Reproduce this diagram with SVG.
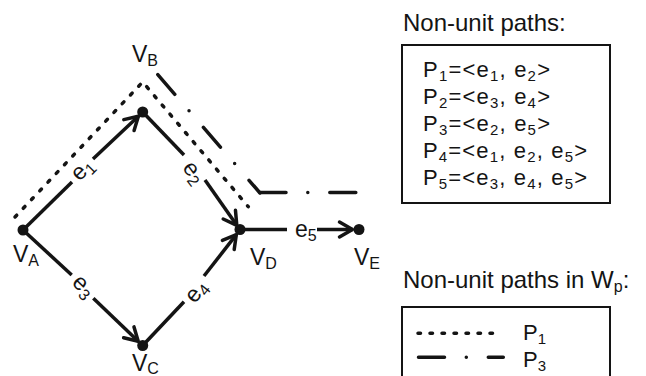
<svg xmlns="http://www.w3.org/2000/svg" width="646" height="376" viewBox="0 0 646 376">
<style>
text{font-family:"Liberation Sans",Arial,sans-serif;fill:#141414}
.lbl{font-size:23px}
.sub{font-size:16px}
.el{font-size:23px}
.esub{font-size:16px}
.hdr{font-size:24px}
.pl{font-size:22px}
.psub{font-size:15px}
.edge{stroke:#141414;stroke-width:3.5;fill:none;stroke-linecap:butt}
.node{fill:#141414}
.p1{stroke:#141414;stroke-width:3.5;fill:none;stroke-linecap:round;stroke-dasharray:2.5 9.5}
.p3{stroke:#141414;stroke-width:3.5;fill:none;stroke-linecap:round;stroke-dasharray:26 21.8 0 22}
.box{fill:none;stroke:#141414;stroke-width:2}
</style>
<defs>
<marker id="arr" markerUnits="userSpaceOnUse" markerWidth="24" markerHeight="24" viewBox="-18 -12 24 24" refX="0" refY="0" orient="auto" overflow="visible">
<path d="M-13,-7.5 L0,0 L-13,7.5" fill="none" stroke="#141414" stroke-width="3.5" stroke-linecap="round" stroke-linejoin="round"/>
</marker>
</defs>

<g id="paths">
<polyline class="p1" points="15,217 142.7,82 248.3,206.7"/>
<line class="p3" x1="157.8" y1="74.6" x2="260" y2="193"/>
<line class="p3" x1="260" y1="192.5" x2="356" y2="192.5"/>
</g>

<g id="connectors">
<line class="edge" x1="23" y1="230" x2="72" y2="182"/>
<line class="edge" x1="93" y1="159" x2="138.4" y2="116.2" marker-end="url(#arr)"/>
<line class="edge" x1="142.7" y1="112" x2="184" y2="155"/>
<line class="edge" x1="205" y1="180" x2="236.8" y2="225.3" marker-end="url(#arr)"/>
<line class="edge" x1="23" y1="230" x2="71.7" y2="275"/>
<line class="edge" x1="93.3" y1="298.3" x2="138.2" y2="341.3" marker-end="url(#arr)"/>
<line class="edge" x1="142.7" y1="345.5" x2="184" y2="301.7"/>
<line class="edge" x1="204" y1="276" x2="236.3" y2="234.7" marker-end="url(#arr)"/>
<line class="edge" x1="240" y1="229.5" x2="287" y2="229.5"/>
<line class="edge" x1="317" y1="229.5" x2="352.5" y2="229.5" marker-end="url(#arr)"/>
<text class="el" transform="translate(83,170) rotate(-45)" x="0" y="6" text-anchor="middle">e<tspan class="esub" dy="4">1</tspan></text>
<text class="el" transform="translate(193,173) rotate(53)" x="0" y="6" text-anchor="middle">e<tspan class="esub" dy="4">2</tspan></text>
<text class="el" transform="translate(83,287) rotate(45)" x="0" y="6" text-anchor="middle">e<tspan class="esub" dy="4">3</tspan></text>
<text class="el" transform="translate(197,292) rotate(-52)" x="0" y="6" text-anchor="middle">e<tspan class="esub" dy="4">4</tspan></text>
<text class="el" x="295" y="237">e<tspan class="esub" dy="4">5</tspan></text>
</g>

<g id="VA"><circle class="node" cx="23" cy="230" r="5.5"/><text class="lbl" x="13" y="262">V<tspan class="sub" dy="4">A</tspan></text></g>
<g id="VB"><circle class="node" cx="142.7" cy="112" r="5.5"/><text class="lbl" x="132" y="62">V<tspan class="sub" dy="4">B</tspan></text></g>
<g id="VC"><circle class="node" cx="142.7" cy="345.5" r="5.5"/><text class="lbl" x="132" y="371">V<tspan class="sub" dy="3">C</tspan></text></g>
<g id="VD"><circle class="node" cx="240" cy="229.5" r="5.5"/><text class="lbl" x="250" y="265">V<tspan class="sub" dy="4">D</tspan></text></g>
<g id="VE"><circle class="node" cx="359" cy="229.5" r="5.5"/><text class="lbl" x="354" y="265">V<tspan class="sub" dy="4">E</tspan></text></g>

<g id="pathlist">
<text class="hdr" x="403" y="31">Non-unit paths:</text>
<rect class="box" x="402" y="45" width="208" height="158"/>
<text class="pl" x="423" y="77" textLength="127" lengthAdjust="spacing">P<tspan class="psub" dy="4">1</tspan><tspan dy="-4">=&lt;e</tspan><tspan class="psub" dy="4">1</tspan><tspan dy="-4">, e</tspan><tspan class="psub" dy="4">2</tspan><tspan dy="-4">&gt;</tspan></text>
<text class="pl" x="423" y="104" textLength="127" lengthAdjust="spacing">P<tspan class="psub" dy="4">2</tspan><tspan dy="-4">=&lt;e</tspan><tspan class="psub" dy="4">3</tspan><tspan dy="-4">, e</tspan><tspan class="psub" dy="4">4</tspan><tspan dy="-4">&gt;</tspan></text>
<text class="pl" x="423" y="131" textLength="127" lengthAdjust="spacing">P<tspan class="psub" dy="4">3</tspan><tspan dy="-4">=&lt;e</tspan><tspan class="psub" dy="4">2</tspan><tspan dy="-4">, e</tspan><tspan class="psub" dy="4">5</tspan><tspan dy="-4">&gt;</tspan></text>
<text class="pl" x="423" y="158" textLength="164" lengthAdjust="spacing">P<tspan class="psub" dy="4">4</tspan><tspan dy="-4">=&lt;e</tspan><tspan class="psub" dy="4">1</tspan><tspan dy="-4">, e</tspan><tspan class="psub" dy="4">2</tspan><tspan dy="-4">, e</tspan><tspan class="psub" dy="4">5</tspan><tspan dy="-4">&gt;</tspan></text>
<text class="pl" x="423" y="185" textLength="164" lengthAdjust="spacing">P<tspan class="psub" dy="4">5</tspan><tspan dy="-4">=&lt;e</tspan><tspan class="psub" dy="4">3</tspan><tspan dy="-4">, e</tspan><tspan class="psub" dy="4">4</tspan><tspan dy="-4">, e</tspan><tspan class="psub" dy="4">5</tspan><tspan dy="-4">&gt;</tspan></text>
</g>

<g id="legend">
<text class="hdr" x="403" y="288">Non-unit paths in W<tspan class="sub" dy="4">p</tspan><tspan dy="-4">:</tspan></text>
<rect class="box" x="402" y="307" width="208" height="80"/>
<line class="p1" x1="418" y1="333.3" x2="496" y2="333.3"/>
<text class="pl" x="523" y="340">P<tspan class="psub" dy="4">1</tspan></text>
<line class="p3" x1="418.5" y1="357.3" x2="503.3" y2="357.3"/>
<text class="pl" x="523" y="367">P<tspan class="psub" dy="4">3</tspan></text>
</g>
</svg>
